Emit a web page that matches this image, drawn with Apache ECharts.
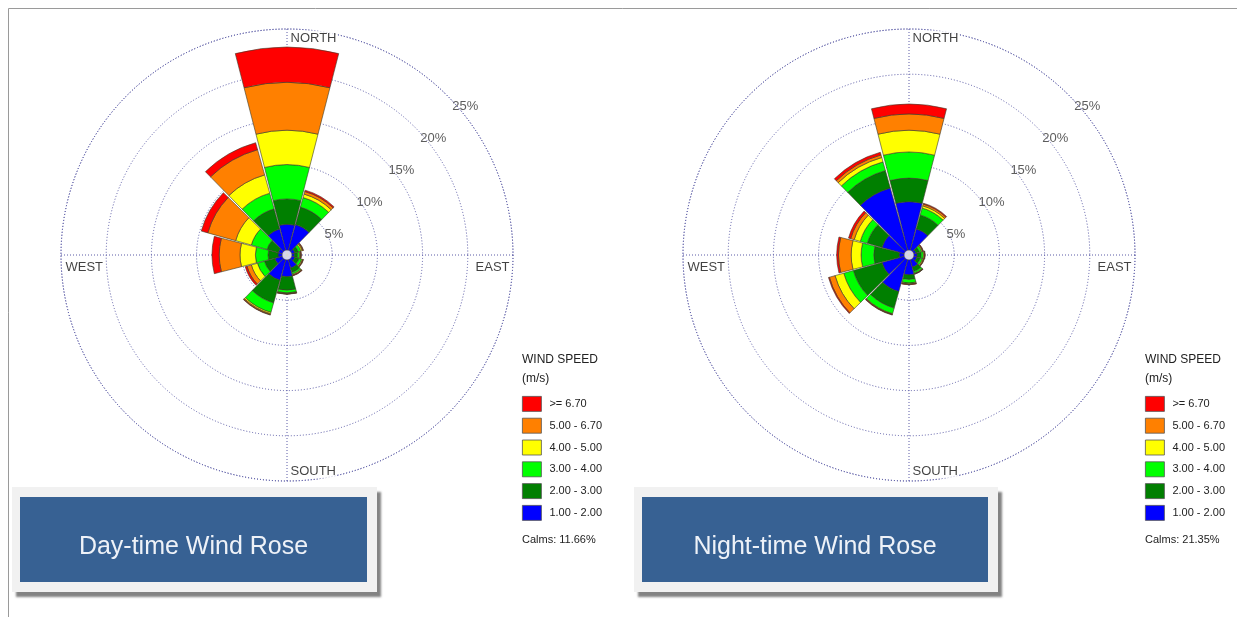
<!DOCTYPE html>
<html>
<head>
<meta charset="utf-8">
<title>Wind Roses</title>
<script src="https://cdn.jsdelivr.net/npm/echarts@6/dist/echarts.min.js"></script>
<style>
  html, body { margin: 0; padding: 0; background: #ffffff; }
  #chart { width: 1237px; height: 617px; }
</style>
</head>
<body>
<div id="chart"></div>
<script>
// 12 direction sectors, clockwise from north (30° each)
const directions = ['N', '30°', '60°', 'E', '120°', '150°', 'S', '210°', '240°', 'W', '300°', '330°'];

// Wind speed classes (m/s), innermost first
const speedBins = ['1.00 - 2.00', '2.00 - 3.00', '3.00 - 4.00', '4.00 - 5.00', '5.00 - 6.70', '>= 6.70'];
const binColors = ['#0000ff', '#007f00', '#00ff00', '#ffff00', '#ff8000', '#ff0000'];

// Day-time frequency (%) per speed class and direction
const dayBlue     = [3.4, 3.5, 0.9, 0.8, 0.9, 1.5, 2.4, 2.9, 1.4, 1.0, 1.0, 3.0];
const dayDkGreen  = [2.8, 2.0, 0.4, 0.4, 0.5, 0.5, 1.5, 2.6, 1.2, 1.1, 1.3, 2.3];
const dayGreen    = [3.8, 1.1, 0.3, 0.2, 0.3, 0.2, 0.3, 1.1, 0.8, 1.4, 1.8, 1.8];
const dayYellow   = [3.8, 0.4, 0.15, 0.1, 0.1, 0.1, 0.07, 0.15, 0.7, 1.7, 1.8, 2.1];
const dayOrange   = [5.3, 0.3, 0.1, 0.05, 0.05, 0.05, 0.05, 0.1, 0.5, 2.3, 3.2, 2.9];
const dayRed      = [3.9, 0.15, 0.05, 0.05, 0.05, 0.05, 0.03, 0.05, 0.2, 0.8, 0.75, 0.8];

// Night-time frequency (%) per speed class and direction
const nightBlue    = [5.9, 3.0, 0.8, 0.9, 0.9, 1.4, 2.2, 4.2, 3.1, 1.1, 3.1, 7.7];
const nightDkGreen = [2.6, 1.6, 0.4, 0.45, 0.4, 0.5, 0.5, 1.9, 3.3, 2.8, 1.7, 2.0];
const nightGreen   = [2.9, 0.8, 0.25, 0.25, 0.25, 0.2, 0.4, 0.65, 1.1, 1.4, 0.8, 1.0];
const nightYellow  = [2.4, 0.25, 0.1, 0.1, 0.1, 0.05, 0.1, 0.05, 1.0, 1.1, 0.7, 0.5];
const nightOrange  = [1.8, 0.2, 0.05, 0.05, 0.05, 0.05, 0.05, 0.05, 0.65, 1.4, 0.4, 0.3];
const nightRed     = [1.1, 0.1, 0.05, 0.05, 0.05, 0.02, 0.05, 0.05, 0.1, 0.2, 0.25, 0.3];

const dayCalms = '11.66%';
const nightCalms = '21.35%';

// Frequency rings (%) and compass labels
const ringTicks = [5, 10, 15, 20, 25];
const compassNames = ['NORTH', 'EAST', 'SOUTH', 'WEST'];
const compassAngles = [0, 90, 180, 270];

const panelTitles = ['Day-time Wind Rose', 'Night-time Wind Rose'];

const FONT = 'Arial, "Liberation Sans", sans-serif';
const GRID_COLOR = '#5a5aa6';
const RMAX = 25;

const roses = [
  { key: 'day', center: [287, 255], legendX: 522, calms: dayCalms, title: panelTitles[0],
    bins: [dayBlue, dayDkGreen, dayGreen, dayYellow, dayOrange, dayRed] },
  { key: 'night', center: [909, 255], legendX: 1145, calms: nightCalms, title: panelTitles[1],
    bins: [nightBlue, nightDkGreen, nightGreen, nightYellow, nightOrange, nightRed] }
];

const polar = [], angleAxis = [], radiusAxis = [], series = [], legend = [], title = [], graphic = [];

const dotted = { color: GRID_COLOR, width: 1, type: [1, 2] };

roses.forEach((rose, i) => {
  const gridIdx = i * 2, barIdx = i * 2 + 1;

  // grid polar: dotted rings and N/E/S/W spokes
  polar.push({ center: rose.center, radius: 226 });
  angleAxis.push({
    polarIndex: gridIdx, type: 'value', min: 0, max: 360, interval: 90,
    startAngle: 90, clockwise: true,
    axisLine: { show: true, lineStyle: dotted },
    axisTick: { show: false }, axisLabel: { show: false },
    splitLine: { show: true, lineStyle: dotted }
  });
  radiusAxis.push({
    polarIndex: gridIdx, type: 'value', min: 0, max: RMAX, interval: 5,
    axisLine: { show: false }, axisTick: { show: false }, axisLabel: { show: false },
    splitLine: { show: true, lineStyle: dotted }
  });

  // bar polar: one petal per direction sector
  polar.push({ center: rose.center, radius: 226 });
  angleAxis.push({
    polarIndex: barIdx, type: 'category', data: directions,
    startAngle: 90 + 180 / directions.length, clockwise: true,
    axisLine: { show: false }, axisTick: { show: false }, axisLabel: { show: false },
    splitLine: { show: false }
  });
  radiusAxis.push({
    polarIndex: barIdx, type: 'value', min: 0, max: RMAX,
    axisLine: { show: false }, axisTick: { show: false }, axisLabel: { show: false },
    splitLine: { show: false }
  });

  rose.bins.forEach((vals, b) => {
    series.push({
      type: 'bar', coordinateSystem: 'polar', polarIndex: barIdx,
      name: speedBins[b], stack: rose.key, barWidth: '96%',
      data: vals,
      itemStyle: { color: binColors[b], borderColor: '#3a3a2a', borderWidth: 0.6 },
      emphasis: { disabled: true },
      z: 3
    });
  });

  // ring percentage labels along the NE diagonal
  series.push({
    type: 'scatter', coordinateSystem: 'polar', polarIndex: gridIdx,
    symbolSize: 1, itemStyle: { color: 'rgba(0,0,0,0)' },
    data: ringTicks.map(v => [v, 45]),
    label: {
      show: true, position: [6, 5], align: 'left', verticalAlign: 'top',
      formatter: p => p.value[0] + '%',
      fontFamily: FONT, fontSize: 13, color: '#333'
    },
    silent: true, z: 4
  });

  // compass point labels
  const placement = {
    NORTH: { position: [3, 2], align: 'left', verticalAlign: 'top', backgroundColor: '#fff' },
    EAST:  { position: [-2, 5], align: 'right', verticalAlign: 'top' },
    SOUTH: { position: [3, -17], align: 'left', verticalAlign: 'top', backgroundColor: '#fff' },
    WEST:  { position: [4, 5], align: 'left', verticalAlign: 'top' }
  };
  series.push({
    type: 'scatter', coordinateSystem: 'polar', polarIndex: gridIdx,
    symbolSize: 1, itemStyle: { color: 'rgba(0,0,0,0)' },
    data: compassNames.map((n, k) => ({
      name: n, value: [RMAX, compassAngles[k]],
      label: Object.assign({ show: true, formatter: n, fontFamily: FONT, fontSize: 13,
        color: '#111', padding: [1, 1] }, placement[n])
    })),
    silent: true, z: 4
  });

  // calm circle at the centre
  series.push({
    type: 'scatter', coordinateSystem: 'polar', polarIndex: gridIdx,
    symbolSize: 10, data: [[0, 0]],
    itemStyle: { color: '#ffffff', borderColor: '#444', borderWidth: 0.8 },
    silent: true, z: 6
  });

  legend.push({
    left: rose.legendX, top: 396, orient: 'vertical', padding: 0,
    itemWidth: 19, itemHeight: 15, itemGap: 6,
    icon: 'rect', selectedMode: false,
    data: speedBins.slice().reverse(),
    itemStyle: { borderColor: '#555', borderWidth: 0.8 },
    textStyle: { fontFamily: FONT, fontSize: 11, color: '#222', padding: [0, 0, 0, 3], lineHeight: 13 }
  });

  title.push({ text: 'WIND SPEED', left: rose.legendX, top: 354, padding: 0,
    textStyle: { fontFamily: FONT, fontSize: 12, fontWeight: 'normal', color: '#222' } });
  title.push({ text: '(m/s)', left: rose.legendX, top: 373, padding: 0,
    textStyle: { fontFamily: FONT, fontSize: 12, fontWeight: 'normal', color: '#222' } });
  title.push({ text: 'Calms: ' + rose.calms, left: rose.legendX, top: 534, padding: 0,
    textStyle: { fontFamily: FONT, fontSize: 11, fontWeight: 'normal', color: '#222' } });
});

// caption panels under each rose
const panelBoxes = [
  { frame: [12, 487, 365, 105], box: [20, 497, 347, 85] },
  { frame: [634, 487, 364, 105], box: [642, 497, 346, 85] }
];
panelBoxes.forEach((p, i) => {
  graphic.push({
    type: 'rect', z: 1,
    shape: { x: p.frame[0], y: p.frame[1], width: p.frame[2], height: p.frame[3] },
    style: { fill: '#f1f1f1', shadowColor: 'rgba(90,90,90,0.75)', shadowOffsetX: 4, shadowOffsetY: 5, shadowBlur: 2 }
  });
  graphic.push({
    type: 'rect', z: 2,
    shape: { x: p.box[0], y: p.box[1], width: p.box[2], height: p.box[3] },
    style: { fill: '#376193' }
  });
  graphic.push({
    type: 'text', z: 3,
    x: p.box[0] + p.box[2] / 2, y: p.box[1] + 50,
    style: { text: panelTitles[i], fill: '#eef2f8', font: '25px ' + FONT, align: 'center', verticalAlign: 'middle' }
  });
});
// page frame lines on the left and top
graphic.push({ type: 'line', shape: { x1: 8.5, y1: 8.5, x2: 8.5, y2: 617 }, style: { stroke: '#9a9a9a', lineWidth: 1 } });
graphic.push({ type: 'line', shape: { x1: 8.5, y1: 8.5, x2: 1237, y2: 8.5 }, style: { stroke: '#9a9a9a', lineWidth: 1 } });

const chart = echarts.init(document.getElementById('chart'), null, { renderer: 'canvas' });
chart.setOption({
  backgroundColor: '#ffffff',
  animation: false,
  title, legend, polar, angleAxis, radiusAxis, series, graphic
});
</script>
</body>
</html>
